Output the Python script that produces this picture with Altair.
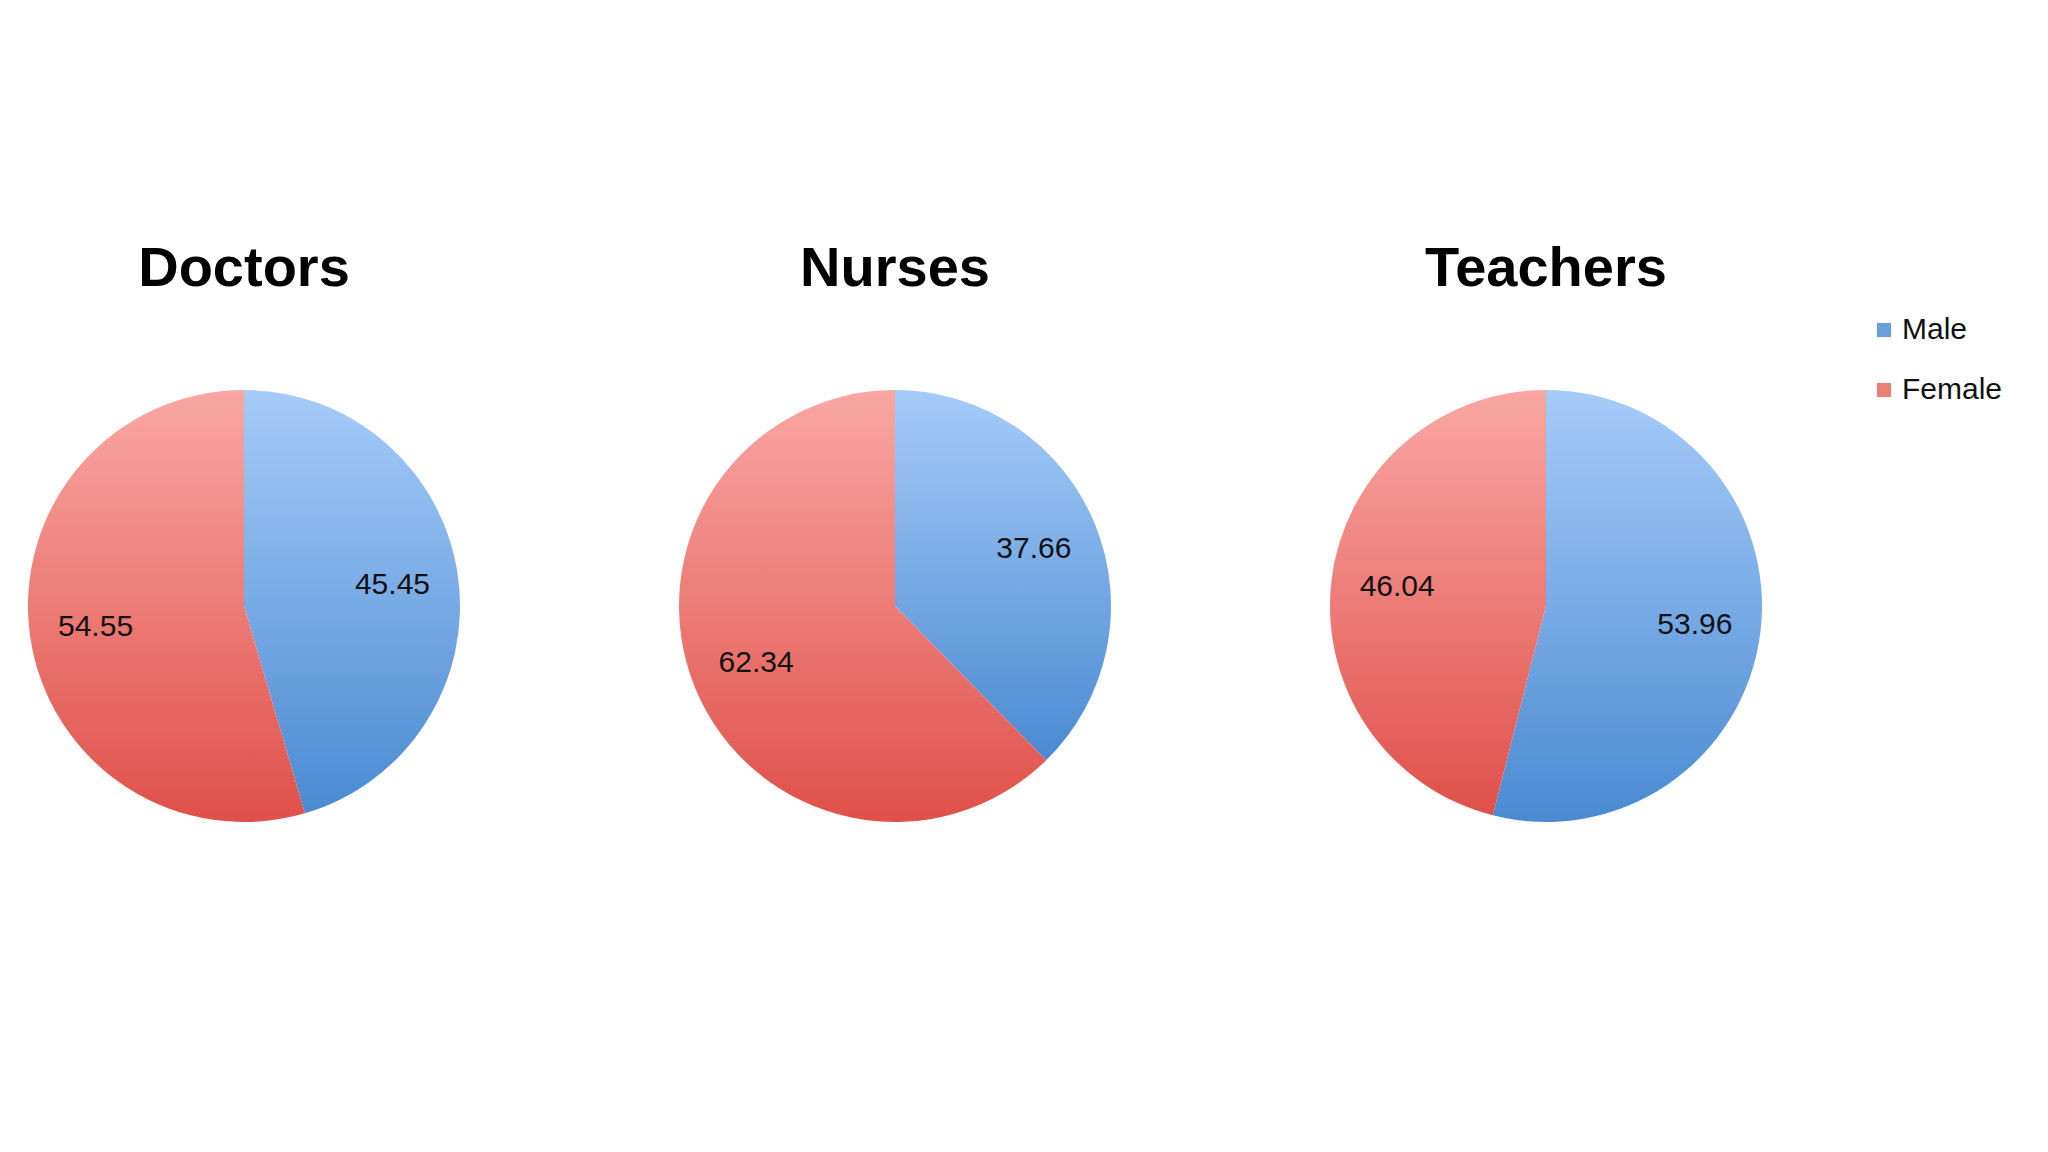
import altair as alt
import pandas as pd

jobs = ["Doctors", "Nurses", "Teachers"]
genders = ["Male", "Female"]
male_values = [45.45, 37.66, 53.96]
female_values = [54.55, 62.34, 46.04]

rows = []
for j, m, f in zip(jobs, male_values, female_values):
    rows.append({"job": j, "gender": "Male", "value": m, "ord": 0})
    rows.append({"job": j, "gender": "Female", "value": f, "ord": 1})
df = pd.DataFrame(rows)

blue_grad = {"gradient": "linear", "x1": 0, "y1": 0, "x2": 0, "y2": 1,
             "stops": [{"offset": 0, "color": "#a6cbf8"}, {"offset": 1, "color": "#4a8ad2"}]}
red_grad = {"gradient": "linear", "x1": 0, "y1": 0, "x2": 0, "y2": 1,
            "stops": [{"offset": 0, "color": "#f9a7a3"}, {"offset": 1, "color": "#e0504a"}]}

FONT = "Liberation Sans"

base = alt.Chart(df).encode(
    theta=alt.Theta("value:Q", stack=True),
    order=alt.Order("ord:Q"),
)

arcs = base.mark_arc(outerRadius=216, strokeWidth=0).encode(
    fill=alt.condition(alt.datum.gender == "Male", alt.value(blue_grad), alt.value(red_grad)),
)

legend_layer = base.mark_arc(outerRadius=0, strokeWidth=0).encode(
    color=alt.Color(
        "gender:N",
        sort=genders,
        scale=alt.Scale(domain=genders, range=["#6a9fdc", "#ec7f7a"]),
        legend=alt.Legend(
            title=None,
            orient="none",
            legendX=1856,
            legendY=-71,
            symbolType="square",
            symbolSize=200,
            symbolStrokeWidth=0,
            symbolOpacity=1,
            labelFontSize=30,
            labelFont=FONT,
            labelColor="#111111",
            rowPadding=30,
            labelOffset=3,
        ),
    ),
)

labels = base.mark_text(radius=150, fontSize=30, font=FONT, color="#111111",
                        align="center", baseline="middle").encode(
    text=alt.Text("value:Q", format=".2f"),
)

chart = alt.layer(arcs, legend_layer, labels).properties(width=462, height=440).facet(
    column=alt.Column(
        "job:N",
        sort=jobs,
        title=None,
        header=alt.Header(
            labelFontSize=56,
            labelFontWeight="bold",
            labelFont=FONT,
            labelColor="#000000",
            labelPadding=88,
        ),
    ),
    spacing=189,
).configure_view(stroke=None).properties(
    background="#ffffff",
    padding={"left": 5, "top": 233, "right": 5, "bottom": 5},
)

chart.save("out.html", embed_options={"renderer": "svg", "actions": False})
